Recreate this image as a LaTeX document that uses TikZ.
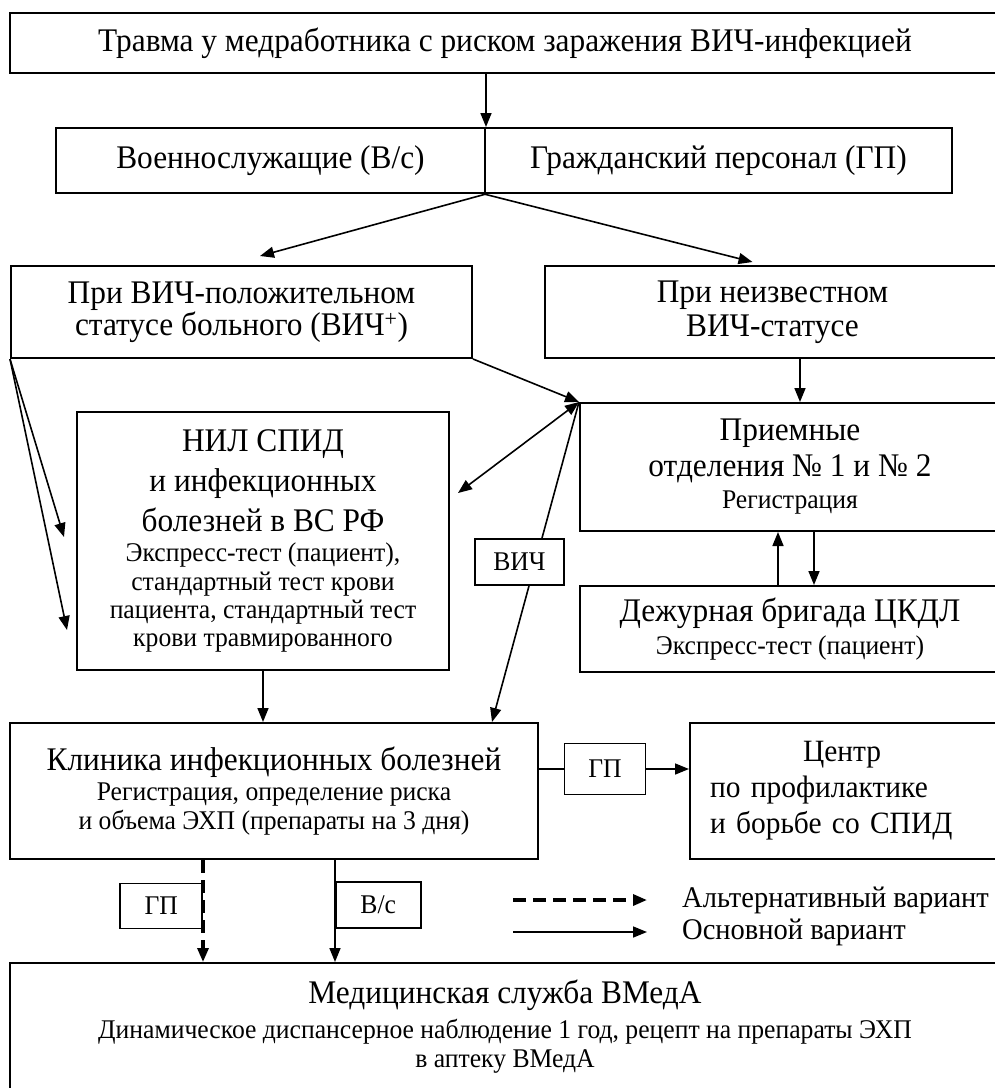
\documentclass[tikz,border=0pt]{standalone}
\usepackage{fontspec}
\setmainfont[FakeStretch=0.95]{Liberation Serif}
\usetikzlibrary{arrows.meta,positioning}
\newcommand{\grande}{\fontsize{33}{36}\selectfont}
\newcommand{\medio}{\fontsize{31}{36}\selectfont}
\newcommand{\chico}{\fontsize{27}{30}\selectfont}
\tikzstyle{caja} = [draw, line width=2pt, rectangle, align=center, inner sep=0pt, font=\grande]
\tikzstyle{etiqueta} = [draw, solid, line width=1.6pt, fill=white, rectangle, inner sep=0pt, font=\chico]
\tikzstyle{leyenda} = [anchor=west, inner sep=0pt, font=\fontsize{30}{33}\selectfont]
\tikzstyle{flecha} = [line width=1.6pt, -{Triangle[length=14pt,width=11pt]}]
\tikzstyle{doble} = [line width=1.6pt, {Triangle[length=14pt,width=11pt]}-{Triangle[length=14pt,width=11pt]}]
\tikzstyle{alterna} = [flecha, line width=3.2pt, dash pattern=on 13pt off 7pt]

\begin{document}
\begin{tikzpicture}[x=1pt,y=-1pt]
	\useasboundingbox (0,0) rectangle (995,1088);
	% cajas
	\node[caja, minimum width=990pt, minimum height=60pt] (trauma) at (505,43) {Травма у медработника с риском заражения ВИЧ-инфекцией};
	\node[caja, minimum width=429pt, minimum height=65pt] (mil) at (270.5,160.5) {Военнослужащие (В/с)};
	\node[caja, minimum width=467pt, minimum height=65pt] (civ) at (718.5,160.5) {Гражданский персонал (ГП)};
	\node[caja, minimum width=461pt, minimum height=92pt] (hivpos) at (241.5,312) {При ВИЧ-положительном\\[-4pt] статусе больного (ВИЧ\textsuperscript{+})};
	\node[caja, minimum width=455pt, minimum height=92pt] (unknown) at (772.5,312) {При неизвестном\\[-2pt] ВИЧ-статусе};
	\node[caja, minimum width=420pt, minimum height=128pt] (reception) at (790,467) {Приемные\\ отделения № 1 и № 2\\[-4pt] {\chico Регистрация}};
	\node[caja, minimum width=372pt, minimum height=258pt] (nil) at (263,541) {НИЛ СПИД\\[4pt] и инфекционных\\[4pt] болезней в ВС РФ\\[-6pt] {\chico Экспресс-тест (пациент),}\\[-7pt] {\chico стандартный тест крови}\\[-8pt] {\chico пациента, стандартный тест}\\[-8pt] {\chico крови травмированного}};
	\node[caja, minimum width=420pt, minimum height=86pt] (ckdl) at (790,629) {Дежурная бригада ЦКДЛ\\[-3pt] {\chico Экспресс-тест (пациент)}};
	\node[caja, minimum width=528pt, minimum height=136pt] (clinic) at (274,791) {Клиника инфекционных болезней\\[-6pt] {\chico Регистрация, определение риска}\\[-7pt] {\chico и объема ЭХП (препараты на 3 дня)}};
	\node[caja, font=\medio, align=left, text width=270pt, minimum width=310pt, minimum height=136pt] (cspid) at (845,791) {\hspace*{93pt}Центр\\ по профилактике\\ и борьбе со СПИД};
	\node[caja, minimum width=990pt, minimum height=127pt] (vmeda) at (505,1026.5) {Медицинская служба ВМедА\\[-1pt] {\chico Динамическое диспансерное наблюдение 1 год, рецепт на препараты ЭХП}\\[-7pt] {\chico в аптеку ВМедА}};
	\node[leyenda] (legalt) at (682,900) {Альтернативный вариант};
	\node[leyenda] (legmain) at (682,932) {Основной вариант};
	% conexiones
	\draw[flecha] (trauma.south -| mil.east) -- (mil.north east);
	\draw[flecha] (mil.south east) -- ([xshift=18.5pt,yshift=9pt]hivpos.north);
	\draw[flecha] (civ.south west) -- ([xshift=-20pt,yshift=3pt]unknown.north);
	\draw[flecha] ([xshift=10pt]reception.north |- unknown.south) -- ([xshift=10pt]reception.north);
	\draw[flecha] (hivpos.south east) -- (reception.north west);
	\draw[doble] (reception.north west) -- ([xshift=8pt,yshift=48pt]nil.east);
	\draw[flecha] (hivpos.south west) -- ([xshift=-12pt,yshift=4pt]nil.west);
	\draw[flecha] (hivpos.south west) -- ([xshift=-9pt,yshift=-89pt]nil.west);
	\draw[flecha] ([xshift=-12pt]ckdl.north) -- ([xshift=-12pt]reception.south);
	\draw[flecha] ([xshift=24pt]reception.south) -- ([xshift=24pt]ckdl.north);
	\draw[flecha] (reception.north west) -- node[etiqueta, pos=0.5, xshift=-16pt, minimum width=89pt, minimum height=46pt] (hivlbl) {ВИЧ} ([xshift=-47pt]clinic.north east);
	\draw[flecha] (nil.south) -- (nil.south |- clinic.north);
	\draw[flecha] ([yshift=22pt]clinic.east) -- node[etiqueta, pos=0.44, minimum width=81pt, minimum height=51pt] (gp1) {ГП} ([yshift=22pt]cspid.west);
	\draw[alterna] ([xshift=-71pt]clinic.south) -- node[etiqueta, pos=0.45, anchor=east, minimum width=82pt, minimum height=45pt] (gp2) {ГП} ([xshift=-71pt]clinic.south |- vmeda.north);
	\draw[flecha] ([xshift=61pt]clinic.south) -- node[etiqueta, pos=0.44, anchor=west, minimum width=85pt, minimum height=46pt] (vs) {В/с} ([xshift=61pt]clinic.south |- vmeda.north);
	% leyenda
	\draw[alterna] ([xshift=-169pt]legalt.west) -- ([xshift=-35pt]legalt.west);
	\draw[flecha] ([xshift=-169pt]legmain.west) -- ([xshift=-35pt]legmain.west);
\end{tikzpicture}
\end{document}
